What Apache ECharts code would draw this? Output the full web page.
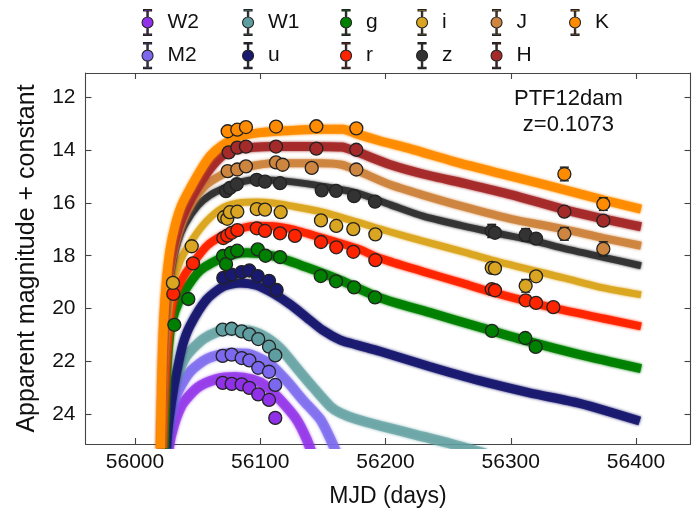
<!DOCTYPE html>
<html>
<head>
<meta charset="utf-8">
<script src="https://cdn.jsdelivr.net/npm/echarts@6/dist/echarts.min.js"></script>
<style>
  html, body { margin: 0; padding: 0; background: #ffffff; }
  #chart { width: 698px; height: 513px; }
</style>
</head>
<body>
<div id="chart"></div>
<script>
// ---- Photometry of PTF12dam: [MJD, magnitude + constant, (optional) error] ----
const obs_W2 = [[56070.0,22.82],[56077.2,22.86],[56085.2,22.88],[56091.3,23.01],[56098.4,23.26],[56107.0,23.47],[56112.0,24.15]];
const obs_M2 = [[56070.0,21.80],[56077.2,21.75],[56085.2,21.88],[56091.3,21.97],[56098.4,22.25],[56107.0,22.40],[56112.0,22.90]];
const obs_W1 = [[56070.0,20.80],[56077.2,20.77],[56085.2,20.87],[56091.3,20.98],[56098.4,21.16],[56107.0,21.45],[56112.0,21.78]];
const obs_u  = [[56070.5,18.84],[56077.2,18.72],[56085.2,18.62],[56091.3,18.56],[56098.0,18.77],[56107.0,18.95],[56113.1,19.30]];
const obs_g  = [[56031.4,20.62],[56042.6,19.64],[56070.3,18.01],[56072.7,18.32],[56076.6,17.89],[56081.6,17.81],[56098.0,17.76],[56104.2,18.00],[56115.8,18.05],[56148.3,18.77],[56160.5,18.97],[56174.9,19.20],[56191.6,19.58],[56285.0,20.85],[56311.6,21.12],[56319.9,21.46]];
const obs_r  = [[56030.6,19.45],[56046.3,18.29],[56070.5,17.33],[56073.7,17.24],[56077.2,17.13],[56081.7,17.03],[56097.2,16.96],[56103.8,17.06],[56115.8,17.15],[56127.7,17.25],[56148.5,17.48],[56160.7,17.68],[56174.3,17.85],[56191.9,18.17],[56284.8,19.27],[56287.4,19.31],[56311.9,19.69],[56320.2,19.79],[56334.0,19.95]];
const obs_i  = [[56030.3,19.03],[56045.3,17.64],[56071.1,16.54],[56073.7,16.60],[56075.8,16.35],[56081.7,16.33],[56097.2,16.23],[56103.8,16.25],[56116.3,16.35],[56148.5,16.66],[56160.7,16.87],[56174.3,16.99],[56191.9,17.19],[56284.8,18.46],[56287.4,18.48],[56311.9,19.14,0.24],[56320.2,18.78]];
const obs_z  = [[56072.7,15.55],[56075.8,15.43],[56081.2,15.29],[56097.2,15.12],[56103.8,15.19],[56115.8,15.25],[56149.1,15.52],[56160.5,15.54],[56174.9,15.74],[56191.6,15.95],[56284.8,17.06,0.25],[56287.4,17.13],[56311.9,17.21,0.24],[56320.2,17.35]];
const obs_J  = [[56074.0,14.79],[56081.7,14.73],[56088.6,14.61],[56112.6,14.46],[56117.9,14.55],[56141.1,14.67],[56176.7,14.73],[56342.8,17.17,0.24],[56373.9,17.74,0.27]];
const obs_H  = [[56074.8,14.08],[56081.7,13.90],[56088.6,13.86],[56112.6,13.86],[56144.8,13.94],[56176.7,13.98],[56342.8,16.33],[56373.9,16.67]];
const obs_K  = [[56074.0,13.28],[56081.7,13.22],[56088.6,13.12],[56112.6,13.10],[56144.8,13.09],[56176.7,13.17],[56342.8,14.90,0.26],[56373.9,16.04,0.24]];

// ---- Magnetar model light curves: [MJD, magnitude + constant] ----
const model_W2 = [[56025,26.0],[56029,24.8],[56037,23.7],[56050,23.0],[56065,22.68],[56080,22.6],[56094,22.7],[56104,22.92],[56116,23.47],[56129,24.21],[56137,24.95],[56142,25.6]];
const model_M2 = [[56023.5,26.0],[56026.5,24.7],[56033,23.3],[56044,22.4],[56058,21.9],[56075,21.7],[56090,21.72],[56100,21.9],[56108,22.12],[56121,22.74],[56134,23.47],[56148,24.21],[56156,24.95],[56162,25.6]];
const model_W1 = [[56022,26.0],[56024.5,24.8],[56030,23.1],[56040,21.88],[56055,21.14],[56072,20.83],[56089,20.83],[56102,21.02],[56116,21.51],[56129,22.25],[56142,22.98],[56156,23.72],[56164,23.96],[56177,24.2],[56196,24.45],[56225,24.8],[56250,25.1],[56280,25.5]];
const model_u  = [[56024.5,25.8],[56026.6,24.5],[56030,23.3],[56033,22.49],[56038,21.4],[56044,20.65],[56057,19.67],[56070.5,19.17],[56084,19.03],[56097,19.12],[56110,19.42],[56124,19.85],[56137,20.34],[56150,20.83],[56164,21.2],[56177,21.38],[56196,21.63],[56235,22.2],[56275,22.74],[56315,23.2],[56355,23.6],[56403,24.27]];
const model_g  = [[56023,25.5],[56025,22.8],[56028,20.9],[56032,20.1],[56038.6,19.42],[56052,18.56],[56070.5,18.07],[56089,17.89],[56110,18.01],[56137,18.44],[56164,18.93],[56196,19.6],[56235,20.15],[56275,20.71],[56315,21.26],[56355,21.75],[56404,22.28]];
const model_r  = [[56022,25.5],[56024.5,22.5],[56027.5,20.6],[56031,19.6],[56038,18.85],[56046,18.3],[56058,17.6],[56076,17.09],[56097,16.86],[56110,16.88],[56124,16.98],[56150,17.33],[56177,17.72],[56196,18.1],[56230,18.6],[56262,19.05],[56285,19.38],[56334,19.98],[56374,20.38],[56404,20.68]];
const model_i  = [[56021.5,25.5],[56023.5,22.3],[56026.5,20.3],[56030,19.1],[56036,18.2],[56045,17.45],[56057,16.7],[56070.5,16.17],[56085,15.98],[56097,15.96],[56110,16.0],[56124,16.11],[56150,16.35],[56177,16.72],[56204,17.1],[56230,17.45],[56262,17.85],[56285,18.17],[56343,18.85],[56374,19.22],[56404,19.48]];
const model_z  = [[56021,25.5],[56023,22.2],[56025.5,20.0],[56029,18.6],[56034,17.5],[56040,16.8],[56050,16.1],[56060,15.7],[56070.5,15.45],[56085,15.2],[56097,15.12],[56124,15.19],[56150,15.37],[56177,15.62],[56204,16.07],[56230,16.5],[56260,16.85],[56285,17.11],[56320,17.45],[56343,17.73],[56374,18.06],[56404,18.38]];
const model_J  = [[56020.8,25.5],[56022.5,22.3],[56025,20.0],[56028,18.6],[56032,17.6],[56038,16.7],[56046,15.95],[56055,15.4],[56065,15.05],[56076,14.8],[56090,14.62],[56110,14.49],[56150,14.49],[56165,14.55],[56177,14.76],[56204,15.31],[56230,15.7],[56263,16.15],[56300,16.6],[56343,17.0],[56374,17.33],[56404,17.62]];
const model_H  = [[56020.5,25.5],[56022,22.5],[56024,20.2],[56026.5,18.8],[56030,17.8],[56035,16.9],[56042,16.1],[56050,15.4],[56060,14.7],[56070,14.2],[56080,13.97],[56095,13.89],[56110,13.86],[56140,13.86],[56165,13.88],[56177,14.06],[56204,14.55],[56230,14.9],[56267,15.3],[56300,15.68],[56343,16.25],[56374,16.6],[56404,16.9]];
const model_K  = [[56020.3,25.5],[56021.5,22.5],[56023,20.4],[56025,19.0],[56028,17.75],[56032,16.85],[56037,16.1],[56044,15.45],[56052,14.78],[56060,14.22],[56070,13.8],[56084,13.47],[56100,13.33],[56120,13.26],[56150,13.2],[56166,13.2],[56177,13.38],[56196,13.65],[56220,13.95],[56260,14.5],[56300,14.98],[56343,15.5],[56375,15.9],[56404,16.23]];

// ---- Bands, axis ticks and annotation ----
const bandNames = ['W2','M2','W1','u','g','r','i','z','J','H','K'];
const legendColumns = [['W2','M2'],['W1','u'],['g','r'],['i','z'],['J','H'],['K']];
const xTicks = [56000, 56100, 56200, 56300, 56400];
const yTicks = [12, 14, 16, 18, 20, 22, 24];
const objectName = 'PTF12dam';
const redshiftLabel = 'z=0.1073';

const observations = {W2:obs_W2, M2:obs_M2, W1:obs_W1, u:obs_u, g:obs_g, r:obs_r, i:obs_i, z:obs_z, J:obs_J, H:obs_H, K:obs_K};
const models = {W2:model_W2, M2:model_M2, W1:model_W1, u:model_u, g:model_g, r:model_r, i:model_i, z:model_z, J:model_J, H:model_H, K:model_K};

// ---- Styling ----
const bandColors = {W2:'#9030e8', M2:'#7b68ee', W1:'#5f9ea0', u:'#191970', g:'#008000', r:'#ff2400', i:'#daa520', z:'#333333', J:'#cd853f', H:'#a52a2a', K:'#ff8c00'};
const bandWidth = {W2:10, M2:10, W1:10, u:9, g:9, r:8, i:7, z:7, J:8, H:9, K:9};
const bandOpacity = {W2:0.75, M2:0.75, W1:0.7, u:0.95, g:0.95, r:0.95, i:0.95, z:0.95, J:0.95, H:0.95, K:0.95};
const FONT = 'Liberation Sans, Arial, Helvetica, sans-serif';
const EDGE = '#222222';

// Legend glyph: a point with error-bar whiskers and caps
const legendIcon = 'path://M2,0L10,0L10,1.4L2,1.4Z' +
  'M5.35,1.4L6.65,1.4L6.65,7.5L5.35,7.5Z' +
  'M0.5,13A5.5,5.5,0,1,1,11.5,13A5.5,5.5,0,1,1,0.5,13Z' +
  'M5.35,18.5L6.65,18.5L6.65,24.6L5.35,24.6Z' +
  'M2,24.6L10,24.6L10,26L2,26Z';

const X_MIN = 55960.5, X_MAX = 56443.5;
const Y_MIN = 11.07, Y_MAX = 25.14;

const series = [];

// Observed points (listed first so the legend takes their style)
bandNames.forEach(function (b) {
  series.push({
    name: b,
    type: 'scatter',
    data: observations[b].map(function (p) { return [p[0], p[1]]; }),
    symbol: 'circle',
    symbolSize: 13,
    itemStyle: { color: bandColors[b], borderColor: EDGE, borderWidth: 1.3, opacity: 1 },
    z: 5,
    silent: true
  });
});

// Model bands
bandNames.forEach(function (b) {
  series.push({
    name: b,
    type: 'line',
    data: models[b],
    showSymbol: false,
    smooth: 0.25,
    clip: true,
    lineStyle: {
      color: bandColors[b],
      width: bandWidth[b],
      opacity: bandOpacity[b],
      shadowBlur: 3,
      shadowColor: bandColors[b],
      cap: 'butt'
    },
    z: 2,
    silent: true
  });
});

// Error bars where the uncertainty exceeds the point size
const errRows = [];
bandNames.forEach(function (b) {
  observations[b].forEach(function (p) {
    if (p.length > 2) errRows.push([p[0], p[1], p[2]]);
  });
});
series.push({
  name: 'errors',
  type: 'custom',
  data: errRows,
  z: 4,
  silent: true,
  renderItem: function (params, api) {
    const x = api.value(0), y = api.value(1), e = api.value(2);
    const top = api.coord([x, y - e]);
    const bot = api.coord([x, y + e]);
    const cw = 4.5;
    const st = { stroke: EDGE, lineWidth: 1.4 };
    return {
      type: 'group',
      children: [
        { type: 'line', shape: { x1: top[0], y1: top[1], x2: bot[0], y2: bot[1] }, style: st },
        { type: 'line', shape: { x1: top[0] - cw, y1: top[1], x2: top[0] + cw, y2: top[1] }, style: st },
        { type: 'line', shape: { x1: bot[0] - cw, y1: bot[1], x2: bot[0] + cw, y2: bot[1] }, style: st }
      ]
    };
  }
});

// Legend: one component per column
const colLeft = [136.5, 237, 335, 411, 485.5, 564];
const legends = legendColumns.map(function (col, k) {
  return {
    orient: 'vertical',
    left: colLeft[k],
    top: 4,
    itemWidth: 12,
    itemHeight: 26,
    itemGap: 6,
    selectedMode: false,
    icon: legendIcon,
    itemStyle: { borderColor: EDGE, borderWidth: 1.1 },
    textStyle: { fontFamily: FONT, fontSize: 21, color: '#111', padding: [0, 0, 0, 9] },
    data: col
  };
});

const axisLineStyle = { lineStyle: { color: '#444', width: 1.1 } };
const tickStyle = { inside: true, length: 6, lineStyle: { color: '#444', width: 1.1 } };

const option = {
  animation: false,
  backgroundColor: '#ffffff',
  legend: legends,
  grid: { left: 85.5, right: 7.5, top: 73, bottom: 58, containLabel: false },
  xAxis: [
    {
      type: 'value', min: X_MIN, max: X_MAX, position: 'bottom',
      name: 'MJD (days)', nameLocation: 'middle', nameGap: 41,
      nameTextStyle: { fontFamily: FONT, fontSize: 23, color: '#111' },
      axisLine: axisLineStyle,
      axisTick: Object.assign({ customValues: xTicks }, tickStyle),
      axisLabel: { customValues: xTicks, fontFamily: FONT, fontSize: 21, color: '#111', margin: 8,
        formatter: function (v) { return String(Math.round(v)); } },
      splitLine: { show: false }
    },
    {
      type: 'value', min: X_MIN, max: X_MAX, position: 'top',
      axisLine: axisLineStyle,
      axisTick: Object.assign({ customValues: xTicks }, tickStyle),
      axisLabel: { show: false },
      splitLine: { show: false }
    }
  ],
  yAxis: [
    {
      type: 'value', min: Y_MIN, max: Y_MAX, inverse: true, position: 'left',
      name: 'Apparent magnitude + constant', nameLocation: 'middle', nameGap: 46,
      nameTextStyle: { fontFamily: FONT, fontSize: 25, color: '#111' },
      axisLine: axisLineStyle,
      axisTick: Object.assign({ customValues: yTicks }, tickStyle),
      axisLabel: { customValues: yTicks, fontFamily: FONT, fontSize: 21, color: '#111', margin: 10,
        formatter: function (v) { return String(Math.round(v)); } },
      splitLine: { show: false }
    },
    {
      type: 'value', min: Y_MIN, max: Y_MAX, inverse: true, position: 'right',
      axisLine: axisLineStyle,
      axisTick: Object.assign({ customValues: yTicks }, tickStyle),
      axisLabel: { show: false },
      splitLine: { show: false }
    }
  ],
  graphic: [
    {
      type: 'text', left: 514, top: 86, z: 10,
      style: { text: objectName + '\n' + redshiftLabel, fontFamily: FONT, fontSize: 22,
        fill: '#111', align: 'center', lineHeight: 26, textAlign: 'center', width: 106 }
    }
  ],
  series: series
};

const chart = echarts.init(document.getElementById('chart'), null, { renderer: 'canvas' });
chart.setOption(option);
</script>
</body>
</html>
